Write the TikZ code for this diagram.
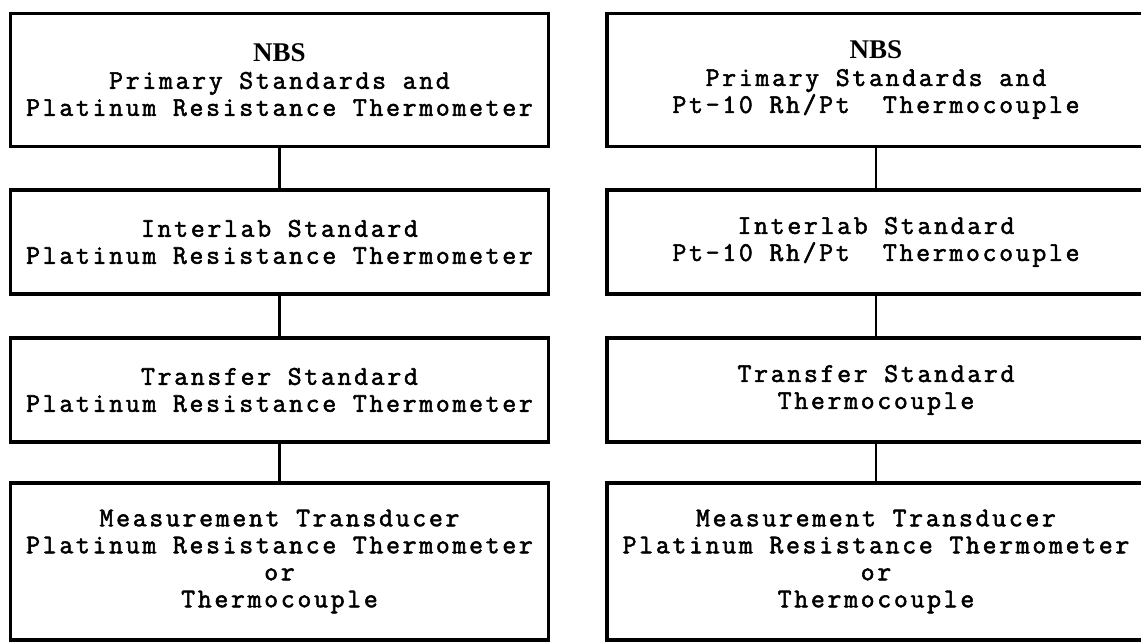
\documentclass[tikz,border=0pt]{standalone}
\usepackage{fontspec}
\newfontfamily\typew[LetterSpace=10,FakeBold=2]{Latin Modern Mono}
\newfontfamily\nbsfont{Liberation Serif}
\newcommand{\NBS}{{\nbsfont\bfseries\fontsize{27}{27}\selectfont NBS}}
\begin{document}
\begin{tikzpicture}[x=1pt,y=-1pt,font=\typew\fontsize{27}{27}\selectfont,
  stdbox/.style={draw,line width=3.6pt,align=center,minimum width=538pt,inner sep=0pt},
  link/.style={line width=2.2pt}]
\useasboundingbox (0,0) rectangle (1141,642);
% platinum resistance chain
\node[stdbox,minimum height=133pt] (pNBS) at (279.5,80) {\NBS\\Primary Standards and\\Platinum Resistance Thermometer};
\node[stdbox,minimum height=104pt] (pInter) at (279.5,242) {Interlab Standard\\Platinum Resistance Thermometer};
\node[stdbox,minimum height=104pt] (pTrans) at (279.5,390) {Transfer Standard\\Platinum Resistance Thermometer};
\node[stdbox,minimum height=157pt] (pMeas) at (279.5,561.5) {Measurement Transducer\\Platinum Resistance Thermometer\\or\\Thermocouple};
\draw[link] (pNBS) -- (pInter); \draw[link] (pInter) -- (pTrans); \draw[link] (pTrans) -- (pMeas);
% thermocouple chain
\node[stdbox,minimum height=133pt] (tNBS) at (876,80) {\NBS\\Primary Standards and\\Pt-10 Rh/Pt~ Thermocouple};
\node[stdbox,minimum height=104pt] (tInter) at (876,242) {Interlab Standard\\Pt-10 Rh/Pt~ Thermocouple};
\node[stdbox,minimum height=104pt] (tTrans) at (876,390) {Transfer Standard\\Thermocouple};
\node[stdbox,minimum height=157pt] (tMeas) at (876,561.5) {Measurement Transducer\\Platinum Resistance Thermometer\\or\\Thermocouple};
\draw[link] (tNBS) -- (tInter); \draw[link] (tInter) -- (tTrans); \draw[link] (tTrans) -- (tMeas);
\end{tikzpicture}
\end{document}
